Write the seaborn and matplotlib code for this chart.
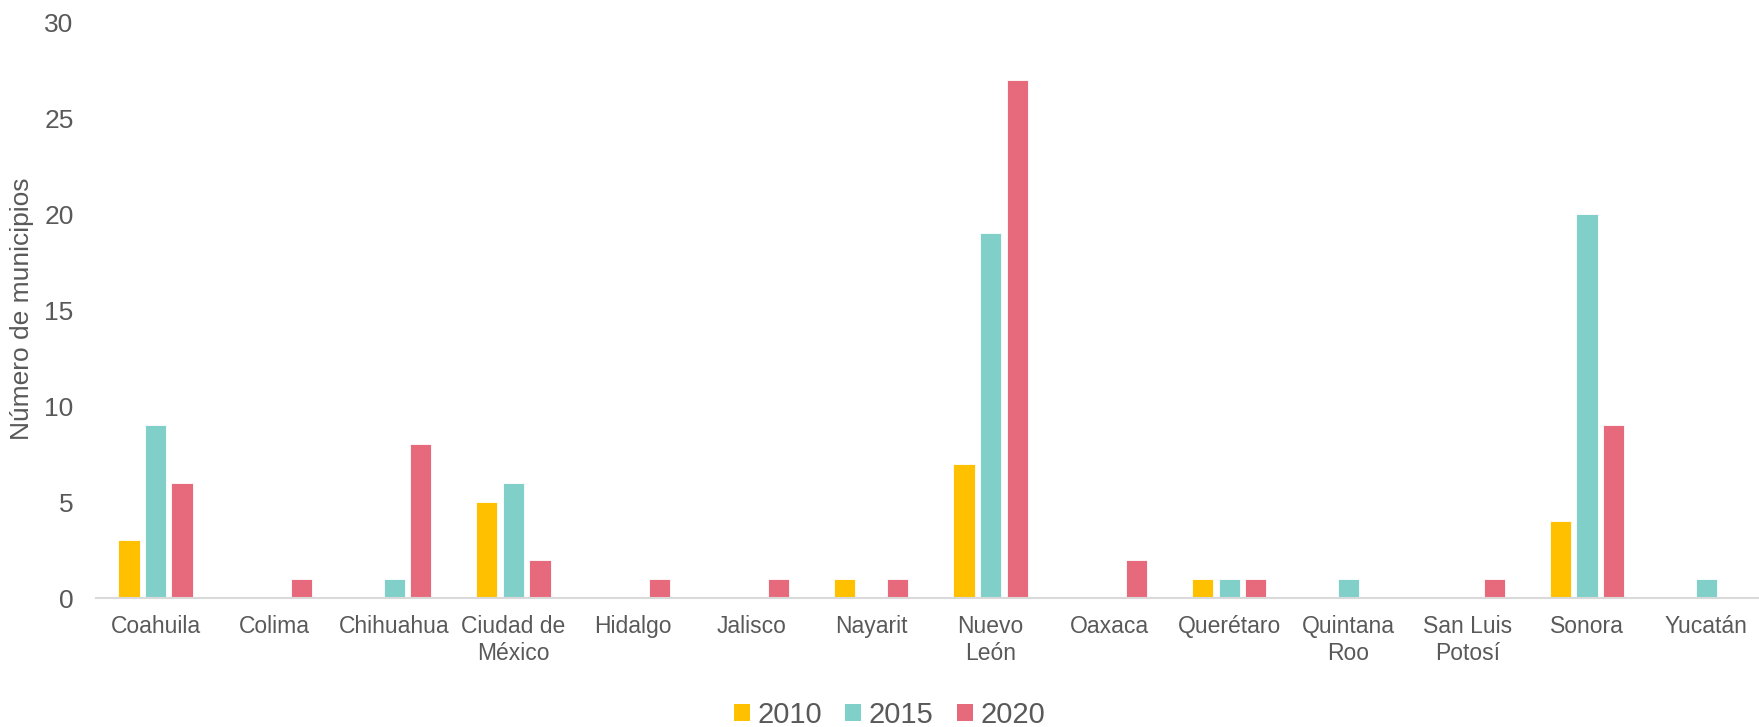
import matplotlib
matplotlib.use("Agg")
import matplotlib.pyplot as plt
import seaborn as sns
import pandas as pd
from matplotlib.patches import Patch

categories = ["Coahuila", "Colima", "Chihuahua", "Ciudad de\nMéxico", "Hidalgo",
              "Jalisco", "Nayarit", "Nuevo\nLeón", "Oaxaca", "Querétaro",
              "Quintana\nRoo", "San Luis\nPotosí", "Sonora", "Yucatán"]
years = ["2010", "2015", "2020"]
v2010 = [3, 0, 0, 5, 0, 0, 1, 7, 0, 1, 0, 0, 4, 0]
v2015 = [9, 0, 1, 6, 0, 0, 0, 19, 0, 1, 1, 0, 20, 1]
v2020 = [6, 1, 8, 2, 1, 1, 1, 27, 2, 1, 0, 1, 9, 0]
yticks = [0, 5, 10, 15, 20, 25, 30]
ylabel = "Número de municipios"

colors = ["#FFC000", "#80CFC9", "#E76A7C"]
text_color = "#595959"

rows = []
for yr, vals in zip(years, [v2010, v2015, v2020]):
    for c, v in zip(categories, vals):
        rows.append({"estado": c, "año": yr, "valor": v})
df = pd.DataFrame(rows)

sns.set_theme(style="white")
plt.rcParams["font.family"] = ["Liberation Sans", "DejaVu Sans"]

fig = plt.figure(figsize=(17.59, 7.27), dpi=100)
ax = fig.add_axes([0.0545, 0.1774, 0.9495, 0.7923])

sns.barplot(data=df, x="estado", y="valor", hue="año", hue_order=years,
            order=categories, palette=colors, saturation=1, width=0.667, gap=0.2,
            edgecolor="white", linewidth=0.6, ax=ax, legend=False,
            errorbar=None)

ax.set_ylim(0, 30)
ax.set_yticks(yticks)
ax.set_xlim(-0.5, len(categories) - 0.5)
ax.set_xlabel("")
ax.set_ylabel("")
fig.text(22 / 1759, 1 - 309 / 727, ylabel, rotation=90, ha="center", va="center",
         fontsize=19, color=text_color)
ax.tick_params(axis="y", labelsize=19, labelcolor=text_color, length=0, pad=16)
ax.tick_params(axis="x", labelsize=16.5, labelcolor=text_color, length=0, pad=12)
for lbl in ax.get_xticklabels():
    lbl.set_linespacing(1.25)

for s in ["top", "right", "left"]:
    ax.spines[s].set_visible(False)
ax.spines["bottom"].set_color("#D9D9D9")
ax.spines["bottom"].set_linewidth(1.5)
ax.grid(False)

handles = [Patch(facecolor=c, edgecolor="none", label=y) for c, y in zip(colors, years)]
leg = fig.legend(handles=handles, loc="center", bbox_to_anchor=(0.5057, 0.017),
                 ncol=3, frameon=False, fontsize=21, handlelength=0.55,
                 handleheight=0.55, handletextpad=0.25, columnspacing=0.8)
for t in leg.get_texts():
    t.set_color(text_color)

fig.savefig("out.png", dpi=100)
